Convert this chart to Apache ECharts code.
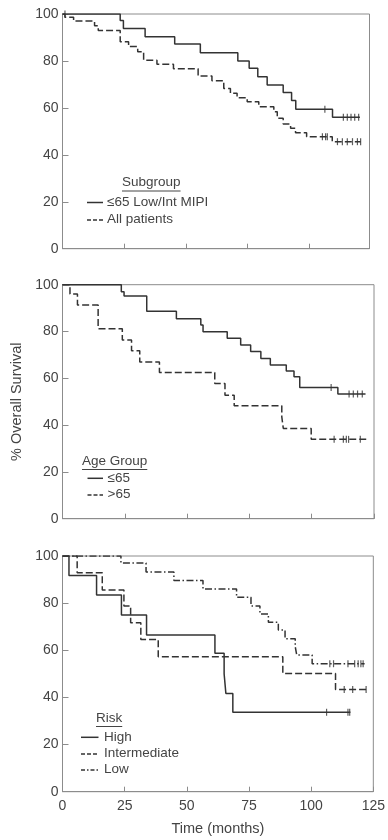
<!DOCTYPE html>
<html><head><meta charset="utf-8">
<script src="https://cdn.jsdelivr.net/npm/echarts@6/dist/echarts.min.js"></script>
<style>html,body{margin:0;padding:0;background:#fff}#c{width:388px;height:840px}</style>
</head><body><div id="c"></div>
<script>
// ---------- DATA ----------
const xTicks = [0, 25, 50, 75, 100, 125];
const yTicks = [0, 20, 40, 60, 80, 100];
const xAxisName = 'Time (months)';
const yAxisName = '% Overall Survival';

// Panel 1: Subgroup
const p1SolidT = [0, 1, 23.4, 24.7, 33.5, 45.5, 55.9, 71.1, 75.7, 79.2, 83.0, 89.5, 92.9, 94.6, 109.5, 120.6];
const p1SolidS = [100, 100, 97.2, 93.8, 90.3, 87.2, 83.5, 80.0, 76.9, 73.3, 69.7, 66.5, 63.1, 59.4, 56.0, 56.0];
const p1SolidC = [1, 106.4, 113.9, 115.5, 117.0, 118.5, 120.1];
const p1DashT = [0, 1, 4.5, 13, 14.5, 23.4, 26.8, 30.5, 32.9, 38.3, 45.0, 55.0, 60.6, 65.4, 68.1, 70.8, 74.9, 79.6, 85.7, 87.1, 89.5, 92.5, 94.5, 99.0, 109.4, 120.9];
const p1DashS = [100, 98.6, 97.0, 95.0, 93.0, 88.2, 86.1, 83.9, 80.3, 78.6, 76.7, 73.6, 71.6, 68.3, 66.2, 64.3, 62.6, 60.5, 58.4, 55.6, 53.1, 51.3, 49.4, 47.7, 45.6, 45.6];
const p1DashC = [105.4, 106.7, 107.4, 111.5, 113.5, 115.5, 117.6, 119.6, 120.9];

// Panel 2: Age Group
const p2SolidT = [0, 23.6, 24.7, 33.8, 45.7, 55.5, 56.4, 66.1, 71.5, 75.5, 79.6, 83.4, 89.8, 92.9, 95.2, 110.5, 121.6];
const p2SolidS = [100, 97.0, 95.2, 88.7, 85.5, 82.8, 79.9, 77.1, 74.2, 71.4, 68.5, 65.7, 63.1, 60.7, 56.1, 53.3, 53.3];
const p2SolidC = [107.8, 115.0, 116.7, 118.4, 120.3];
const p2DashT = [0, 3.0, 6.0, 14.3, 24.0, 27.7, 31.0, 38.9, 61.1, 65.2, 68.9, 88.0, 88.6, 99.8, 123.0];
const p2DashS = [100, 96.0, 91.3, 81.2, 76.4, 71.8, 67.0, 62.5, 57.8, 52.8, 48.3, 43.5, 38.6, 33.9, 33.9];
const p2DashC = [109.0, 112.7, 113.9, 114.8, 119.5];

// Panel 3: Risk
const p3HighT = [0, 2.6, 13.7, 23.7, 33.8, 61.3, 65.0, 65.7, 68.5, 115.8];
const p3HighS = [100, 91.7, 83.5, 75.0, 66.5, 58.7, 50.0, 41.7, 33.7, 33.7];
const p3HighC = [106.2, 114.8, 115.5];
const p3IntT = [0, 5.9, 16.0, 24.7, 27.4, 31.5, 38.5, 88.6, 109.8, 122.2];
const p3IntS = [100, 92.9, 85.6, 78.8, 71.7, 64.6, 57.3, 50.2, 43.4, 43.4];
const p3IntC = [113.3, 116.7, 122.1];
const p3LowT = [0, 23.5, 33.6, 44.8, 56.5, 70.0, 75.8, 79.4, 82.8, 86.8, 89.5, 93.6, 94.2, 100.4, 121.5];
const p3LowS = [100, 97.0, 93.2, 89.6, 86.0, 82.5, 78.8, 75.4, 71.9, 68.6, 64.9, 61.5, 58.0, 54.3, 54.3];
const p3LowC = [107.5, 109.0, 114.8, 117.5, 118.9, 120.0, 120.9];

const legendTitles = ['Subgroup', 'Age Group', 'Risk'];
const legendLabels = [['≤65 Low/Int MIPI', 'All patients'], ['≤65', '>65'], ['High', 'Intermediate', 'Low']];

// ---------- STYLE / LAYOUT ----------
const INK = '#333';
const TXT = '#444';
const FRAME = '#8c8c8c';
const FONT = '"Liberation Sans", Arial, sans-serif';
const DASH = [7, 3];
const DASHDOT = [7, 2.5, 1.5, 2.5];

const grids = [
  {left: 62.5, top: 14, width: 307, height: 234.7, xmax: 124.5},
  {left: 62.5, top: 284.7, width: 311.5, height: 234, xmax: 125},
  {left: 62.5, top: 556, width: 311.5, height: 235.7, xmax: 125}
];

const curves = [
  {g: 0, T: p1SolidT, S: p1SolidS, C: p1SolidC, dash: 'solid'},
  {g: 0, T: p1DashT, S: p1DashS, C: p1DashC, dash: DASH},
  {g: 1, T: p2SolidT, S: p2SolidS, C: p2SolidC, dash: 'solid'},
  {g: 1, T: p2DashT, S: p2DashS, C: p2DashC, dash: DASH},
  {g: 2, T: p3HighT, S: p3HighS, C: p3HighC, dash: 'solid'},
  {g: 2, T: p3IntT, S: p3IntS, C: p3IntC, dash: DASH},
  {g: 2, T: p3LowT, S: p3LowS, C: p3LowC, dash: DASHDOT}
];

function survAt(T, S, t) {
  let v = S[0];
  for (let i = 0; i < T.length; i++) { if (T[i] <= t) v = S[i]; }
  return v;
}

const series = [];
curves.forEach(c => {
  series.push({
    type: 'line', xAxisIndex: c.g, yAxisIndex: c.g, step: 'end',
    symbol: 'none', silent: true,
    lineStyle: {color: INK, width: 1.5, type: c.dash},
    data: c.T.map((t, i) => [t, c.S[i]])
  });
  series.push({
    type: 'scatter', xAxisIndex: c.g, yAxisIndex: c.g, silent: true,
    symbol: 'rect', symbolSize: [1.2, 7],
    itemStyle: {color: INK},
    data: c.C.map(t => [t, survAt(c.T, c.S, t)])
  });
});

const xAxes = grids.map((g, i) => ({
  gridIndex: i, type: 'value', min: xTicks[0], max: g.xmax, interval: 25,
  splitLine: {show: false},
  axisLine: {lineStyle: {color: FRAME, width: 1}},
  axisTick: {inside: true, length: 5, lineStyle: {color: FRAME}},
  axisLabel: {show: i === 2, fontSize: 14, color: TXT, fontFamily: FONT, margin: 7},
  name: i === 2 ? xAxisName : '',
  nameLocation: 'middle', nameGap: 30,
  nameTextStyle: {fontSize: 14.5, color: TXT, fontFamily: FONT}
}));
const yAxes = grids.map((g, i) => ({
  gridIndex: i, type: 'value', min: yTicks[0], max: yTicks[yTicks.length - 1], interval: 20,
  splitLine: {show: false},
  axisLine: {lineStyle: {color: FRAME, width: 1}},
  axisTick: {inside: true, length: 6, lineStyle: {color: FRAME}},
  axisLabel: {fontSize: 14, color: TXT, fontFamily: FONT, margin: 4},
  name: i === 1 ? yAxisName : '',
  nameLocation: 'middle', nameGap: 34,
  nameTextStyle: {fontSize: 14.5, color: TXT, fontFamily: FONT}
}));

// Legend layout (positions only)
const legendPos = [
  {tx: 122, ty: 183, lx0: 87, lx1: 103, textX: 107, ys: [202.5, 220]},
  {tx: 82, ty: 461.5, lx0: 87.5, lx1: 103, textX: 107.5, ys: [478.3, 495]},
  {tx: 96, ty: 718.5, lx0: 81, lx1: 98.5, textX: 104, ys: [737.3, 754, 770]}
];
const legendDash = [['solid', [4, 2]], ['solid', [4, 2]], ['solid', [4, 2], [4, 2, 1.5, 2]]];

const graphic = [];
legendTitles.forEach((title, k) => {
  const p = legendPos[k];
  graphic.push({type: 'text', left: p.tx, top: p.ty - 7.5, silent: true,
    style: {text: title, fontSize: 13.5, fill: TXT, fontFamily: FONT}});
  legendLabels[k].forEach((lab, j) => {
    const y = p.ys[j];
    const d = legendDash[k][j];
    graphic.push({type: 'line', silent: true,
      shape: {x1: p.lx0, y1: y, x2: p.lx1, y2: y},
      style: {stroke: INK, lineWidth: 1.5, lineDash: d === 'solid' ? null : d}});
    graphic.push({type: 'text', left: p.textX, top: y - 7.5, silent: true,
      style: {text: lab, fontSize: 13.5, fill: TXT, fontFamily: FONT}});
  });
});

const chart = echarts.init(document.getElementById('c'), null, {renderer: 'canvas'});
chart.setOption({
  animation: false,
  backgroundColor: '#fff',
  grid: grids.map(g => ({left: g.left, top: g.top, width: g.width, height: g.height,
    show: true, borderColor: FRAME, borderWidth: 1, backgroundColor: 'transparent', containLabel: false})),
  xAxis: xAxes,
  yAxis: yAxes,
  series: series,
  graphic: graphic
});

// underline legend titles using measured text widths
const ctx = document.createElement('canvas').getContext('2d');
ctx.font = '13.5px ' + FONT;
const underlines = legendTitles.map((title, k) => {
  const p = legendPos[k];
  const w = ctx.measureText(title).width;
  return {type: 'line', silent: true,
    shape: {x1: p.tx, y1: p.ty + 8, x2: p.tx + w, y2: p.ty + 8},
    style: {stroke: TXT, lineWidth: 1}};
});
chart.setOption({graphic: graphic.concat(underlines)});
</script></body></html>
